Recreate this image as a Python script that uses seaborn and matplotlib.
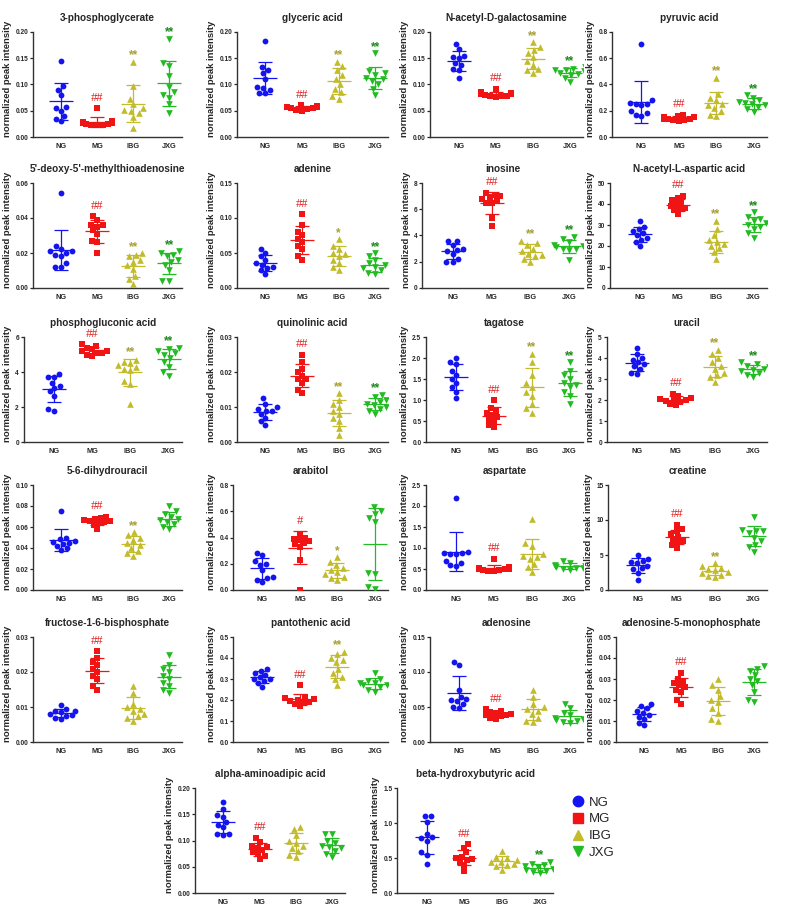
import numpy as np
import pandas as pd
import matplotlib
matplotlib.use("Agg")
import matplotlib.pyplot as plt
from matplotlib.lines import Line2D
from matplotlib.ticker import MultipleLocator, FormatStrFormatter
import seaborn as sns
import warnings

warnings.filterwarnings("ignore")

# groups and styling
groups = ["NG", "MG", "IBG", "JXG"]
colors = ["#1414F0", "#F01414", "#C2BC2C", "#22BB22"]
star_colors = ["#1414F0", "#E02020", "#A8A038", "#1E8A1E"]
markers = ["o", "s", "^", "v"]
marker_sizes = [4.2, 3.9, 4.8, 4.8]

titles = [
    "3-phosphoglycerate", "glyceric acid", "N-acetyl-D-galactosamine", "pyruvic acid",
    "5'-deoxy-5'-methylthioadenosine", "adenine", "inosine", "N-acetyl-L-aspartic acid",
    "phosphogluconic acid", "quinolinic acid", "tagatose", "uracil",
    "5-6-dihydrouracil", "arabitol", "aspartate", "creatine",
    "fructose-1-6-bisphosphate", "pantothenic acid", "adenosine", "adenosine-5-monophosphate",
    "alpha-aminoadipic acid", "beta-hydroxybutyric acid",
]
y_max = [0.20, 0.20, 0.20, 0.8, 0.06, 0.15, 8, 50, 6, 0.03, 2.5, 5,
         0.10, 0.8, 2.5, 15, 0.03, 0.5, 0.15, 0.05, 0.20, 1.5]
y_step = [0.05, 0.05, 0.05, 0.2, 0.02, 0.05, 2, 10, 2, 0.01, 0.5, 1,
          0.02, 0.2, 0.5, 5, 0.01, 0.1, 0.05, 0.01, 0.05, 0.5]
y_decimals = [2, 2, 2, 1, 2, 2, 0, 0, 0, 2, 1, 0,
              2, 1, 1, 0, 2, 1, 2, 2, 2, 1]

# significance marks per panel (NG, MG, IBG, JXG)
marks = [
    ["", "##", "**", "**"], ["", "##", "**", "**"], ["", "##", "**", "**"], ["", "##", "**", "**"],
    ["", "##", "**", "**"], ["", "##", "*", "**"], ["", "##", "**", "**"], ["", "##", "**", "**"],
    ["", "##", "**", "**"], ["", "##", "**", "**"], ["", "##", "**", "**"], ["", "##", "**", "**"],
    ["", "##", "**", ""], ["", "#", "*", ""], ["", "##", "", ""], ["", "##", "**", ""],
    ["", "##", "", ""], ["", "##", "**", ""], ["", "##", "", ""], ["", "##", "", ""],
    ["", "##", "", ""], ["", "##", "", "**"],
]

# values (NG, MG, IBG, JXG)
phosphoglycerate = [
    [0.145, 0.097, 0.090, 0.080, 0.057, 0.055, 0.050, 0.040, 0.035, 0.030],
    [0.055, 0.030, 0.028, 0.027, 0.026, 0.025, 0.024, 0.023, 0.022, 0.022],
    [0.143, 0.098, 0.073, 0.062, 0.055, 0.052, 0.050, 0.045, 0.038, 0.018],
    [0.187, 0.140, 0.135, 0.117, 0.095, 0.085, 0.080, 0.075, 0.062, 0.045],
]
glyceric = [
    [0.182, 0.133, 0.128, 0.121, 0.111, 0.095, 0.093, 0.090, 0.084, 0.083],
    [0.060, 0.059, 0.058, 0.058, 0.057, 0.056, 0.055, 0.054, 0.052, 0.050],
    [0.143, 0.135, 0.127, 0.118, 0.110, 0.100, 0.092, 0.085, 0.078, 0.073],
    [0.160, 0.125, 0.122, 0.118, 0.113, 0.110, 0.106, 0.100, 0.092, 0.080],
]
galactosamine = [
    [0.177, 0.167, 0.155, 0.152, 0.150, 0.140, 0.138, 0.130, 0.128, 0.113],
    [0.092, 0.085, 0.083, 0.082, 0.081, 0.080, 0.079, 0.079, 0.078, 0.077],
    [0.180, 0.172, 0.165, 0.160, 0.152, 0.145, 0.138, 0.130, 0.127, 0.122],
    [0.133, 0.130, 0.128, 0.127, 0.125, 0.122, 0.120, 0.118, 0.113, 0.105],
]
pyruvic = [
    [0.71, 0.28, 0.26, 0.25, 0.25, 0.24, 0.20, 0.18, 0.17, 0.16],
    [0.17, 0.16, 0.15, 0.15, 0.14, 0.14, 0.14, 0.13, 0.13, 0.12],
    [0.45, 0.33, 0.30, 0.28, 0.25, 0.24, 0.22, 0.20, 0.17, 0.16],
    [0.32, 0.30, 0.28, 0.27, 0.26, 0.25, 0.24, 0.23, 0.21, 0.19],
]
methylthioadenosine = [
    [0.054, 0.024, 0.022, 0.021, 0.021, 0.020, 0.019, 0.018, 0.014, 0.012, 0.012],
    [0.041, 0.039, 0.036, 0.036, 0.035, 0.033, 0.031, 0.027, 0.026, 0.020],
    [0.020, 0.019, 0.018, 0.016, 0.015, 0.013, 0.011, 0.007, 0.005, 0.002],
    [0.021, 0.020, 0.019, 0.018, 0.016, 0.015, 0.013, 0.010, 0.004, 0.004],
]
adenine = [
    [0.055, 0.050, 0.045, 0.040, 0.035, 0.033, 0.030, 0.028, 0.025, 0.020],
    [0.105, 0.090, 0.080, 0.075, 0.070, 0.065, 0.060, 0.055, 0.045, 0.040],
    [0.070, 0.060, 0.055, 0.050, 0.048, 0.045, 0.040, 0.035, 0.030, 0.025],
    [0.050, 0.045, 0.040, 0.035, 0.033, 0.030, 0.028, 0.025, 0.022, 0.020],
]
inosine = [
    [3.6, 3.55, 3.3, 3.0, 2.9, 2.8, 2.6, 2.2, 2.0, 2.0],
    [7.2, 7.1, 7.0, 6.9, 6.8, 6.7, 6.5, 6.5, 5.3, 4.7],
    [3.6, 3.4, 3.3, 3.0, 2.8, 2.6, 2.5, 2.4, 2.2, 2.0],
    [3.9, 3.7, 3.5, 3.3, 3.2, 3.1, 3.0, 3.0, 2.9, 2.1],
]
acetylaspartic = [
    [32, 29, 28, 27, 26, 25, 24, 23, 22, 20],
    [44, 43, 42, 41, 40, 39, 38, 38, 37, 35],
    [32, 28, 25, 23, 22, 21, 20, 19, 17, 14],
    [36, 34, 33, 32, 31, 30, 29, 28, 26, 24],
]
phosphogluconic = [
    [3.9, 3.7, 3.7, 3.4, 3.2, 3.1, 2.9, 2.65, 1.9, 1.8],
    [5.6, 5.5, 5.4, 5.3, 5.2, 5.2, 5.1, 5.1, 5.0, 4.9],
    [4.7, 4.6, 4.5, 4.4, 4.3, 4.2, 4.1, 3.5, 3.3, 2.2],
    [5.4, 5.3, 5.2, 5.1, 5.0, 4.8, 4.6, 4.3, 4.0, 3.8],
]
quinolinic = [
    [0.0125, 0.011, 0.010, 0.0095, 0.009, 0.0088, 0.008, 0.007, 0.006, 0.005],
    [0.025, 0.023, 0.021, 0.020, 0.019, 0.018, 0.018, 0.017, 0.015, 0.014],
    [0.014, 0.012, 0.011, 0.010, 0.009, 0.008, 0.007, 0.006, 0.004, 0.002],
    [0.0135, 0.013, 0.012, 0.0115, 0.011, 0.0105, 0.010, 0.0095, 0.009, 0.008],
]
tagatose = [
    [2.0, 1.9, 1.85, 1.7, 1.6, 1.5, 1.4, 1.3, 1.2, 1.05],
    [1.0, 0.8, 0.75, 0.7, 0.65, 0.6, 0.55, 0.5, 0.4, 0.35],
    [2.1, 1.9, 1.6, 1.4, 1.3, 1.2, 1.1, 0.9, 0.8, 0.7],
    [1.9, 1.7, 1.6, 1.5, 1.4, 1.35, 1.3, 1.2, 1.1, 0.9],
]
uracil = [
    [4.5, 4.2, 4.0, 3.9, 3.8, 3.7, 3.6, 3.5, 3.3, 3.25],
    [2.3, 2.2, 2.1, 2.05, 2.0, 2.0, 1.95, 1.9, 1.8, 1.75],
    [4.4, 4.2, 4.0, 3.8, 3.6, 3.5, 3.3, 3.2, 3.1, 2.85],
    [3.8, 3.7, 3.6, 3.55, 3.5, 3.45, 3.4, 3.3, 3.2, 3.1],
]
dihydrouracil = [
    [0.075, 0.050, 0.049, 0.047, 0.046, 0.045, 0.044, 0.042, 0.040, 0.038],
    [0.070, 0.069, 0.068, 0.067, 0.066, 0.066, 0.065, 0.064, 0.062, 0.058],
    [0.055, 0.052, 0.050, 0.048, 0.045, 0.043, 0.040, 0.037, 0.035, 0.032],
    [0.080, 0.075, 0.072, 0.070, 0.068, 0.067, 0.065, 0.063, 0.060, 0.058],
]
arabitol = [
    [0.28, 0.27, 0.22, 0.20, 0.19, 0.15, 0.10, 0.09, 0.08, 0.06],
    [0.42, 0.40, 0.39, 0.38, 0.37, 0.36, 0.35, 0.33, 0.23, 0.0],
    [0.25, 0.21, 0.19, 0.17, 0.15, 0.14, 0.12, 0.10, 0.09, 0.08],
    [0.63, 0.60, 0.58, 0.55, 0.52, 0.13, 0.12, 0.02, 0.01],
]
aspartate = [
    [2.18, 0.90, 0.88, 0.87, 0.86, 0.85, 0.70, 0.65, 0.60, 0.58],
    [0.75, 0.55, 0.52, 0.50, 0.50, 0.49, 0.48, 0.47, 0.46, 0.45],
    [1.68, 1.12, 1.05, 0.85, 0.80, 0.78, 0.75, 0.62, 0.55, 0.42],
    [0.70, 0.65, 0.60, 0.58, 0.56, 0.55, 0.53, 0.52, 0.50, 0.48],
]
creatine = [
    [5.0, 4.5, 4.2, 4.0, 3.8, 3.5, 3.2, 3.0, 2.5, 1.5],
    [9.3, 8.7, 8.5, 8.0, 7.6, 7.3, 7.0, 6.8, 6.5, 6.0],
    [3.8, 3.5, 3.2, 3.0, 2.8, 2.6, 2.4, 2.2, 2.0, 1.8],
    [10.5, 8.6, 8.5, 8.4, 8.2, 7.5, 7.0, 6.5, 6.2, 5.5],
]
fructose_bp = [
    [0.0105, 0.0095, 0.009, 0.0088, 0.0085, 0.008, 0.0078, 0.0075, 0.007, 0.0065],
    [0.026, 0.024, 0.023, 0.022, 0.021, 0.020, 0.019, 0.018, 0.016, 0.015],
    [0.016, 0.014, 0.011, 0.010, 0.0095, 0.009, 0.008, 0.0075, 0.007, 0.006],
    [0.025, 0.022, 0.021, 0.020, 0.019, 0.018, 0.017, 0.016, 0.015, 0.014],
]
pantothenic = [
    [0.35, 0.34, 0.33, 0.32, 0.31, 0.30, 0.30, 0.29, 0.28, 0.26],
    [0.27, 0.215, 0.21, 0.205, 0.20, 0.195, 0.19, 0.19, 0.18, 0.17],
    [0.43, 0.42, 0.40, 0.39, 0.38, 0.35, 0.33, 0.31, 0.30, 0.27],
    [0.33, 0.30, 0.29, 0.28, 0.28, 0.27, 0.27, 0.26, 0.25, 0.24],
]
adenosine = [
    [0.115, 0.110, 0.075, 0.065, 0.062, 0.060, 0.058, 0.055, 0.050, 0.049],
    [0.047, 0.045, 0.043, 0.042, 0.040, 0.039, 0.038, 0.037, 0.035, 0.033],
    [0.075, 0.065, 0.055, 0.050, 0.047, 0.045, 0.040, 0.035, 0.030, 0.028],
    [0.055, 0.048, 0.042, 0.038, 0.035, 0.033, 0.031, 0.030, 0.028, 0.027],
]
amp = [
    [0.018, 0.017, 0.016, 0.015, 0.014, 0.013, 0.012, 0.011, 0.009, 0.008],
    [0.033, 0.030, 0.029, 0.028, 0.027, 0.026, 0.025, 0.024, 0.020, 0.018],
    [0.030, 0.027, 0.025, 0.022, 0.020, 0.019, 0.016, 0.014, 0.011, 0.010],
    [0.036, 0.035, 0.034, 0.032, 0.030, 0.029, 0.027, 0.024, 0.020, 0.019],
]
aminoadipic = [
    [0.173, 0.160, 0.148, 0.145, 0.135, 0.130, 0.125, 0.113, 0.112, 0.110],
    [0.105, 0.097, 0.090, 0.088, 0.085, 0.082, 0.078, 0.075, 0.070, 0.065],
    [0.125, 0.122, 0.110, 0.100, 0.095, 0.090, 0.085, 0.080, 0.073, 0.068],
    [0.113, 0.112, 0.100, 0.095, 0.090, 0.088, 0.085, 0.080, 0.075, 0.068],
]
hydroxybutyric = [
    [1.10, 1.10, 1.02, 0.85, 0.80, 0.78, 0.75, 0.58, 0.55, 0.42],
    [0.70, 0.65, 0.58, 0.52, 0.50, 0.48, 0.47, 0.45, 0.40, 0.32],
    [0.60, 0.52, 0.50, 0.47, 0.45, 0.44, 0.42, 0.40, 0.38, 0.33],
    [0.45, 0.42, 0.40, 0.38, 0.37, 0.35, 0.33, 0.31, 0.30, 0.28],
]

panels = [phosphoglycerate, glyceric, galactosamine, pyruvic,
          methylthioadenosine, adenine, inosine, acetylaspartic,
          phosphogluconic, quinolinic, tagatose, uracil,
          dihydrouracil, arabitol, aspartate, creatine,
          fructose_bp, pantothenic, adenosine, amp,
          aminoadipic, hydroxybutyric]

# === LAYOUT (pixels) ===
W, H = 787, 913
label_x = [5, 209, 402, 588]
right_x = [182, 388, 583, 767]
row_top = [32, 183, 337, 485, 637, 788]
ax_h = 105
last_label_x = [167, 373]
last_right_x = [345, 553]

sns.set_style("ticks")
plt.rcParams["font.family"] = ["Liberation Sans", "DejaVu Sans"]

fig = plt.figure(figsize=(W / 100, H / 100), dpi=100)

axes = []
for k, (title, data) in enumerate(zip(titles, panels)):
    ax = fig.add_axes([0.1, 0.1, 0.2, 0.1])
    rows = []
    for g, vals in zip(groups, data):
        rows += [(g, v) for v in vals]
    df = pd.DataFrame(rows, columns=["group", "value"])

    for i, g in enumerate(groups):
        sub = df[df["group"] == g]
        sns.swarmplot(data=sub, x="group", y="value", order=groups, color=colors[i],
                      marker=markers[i], size=marker_sizes[i], linewidth=0, ax=ax)
        m = sub["value"].mean()
        sd = sub["value"].std()
        ax.errorbar(i, m, yerr=sd, fmt="_", color=colors[i], ms=17, mew=0.9,
                    elinewidth=0.9, capsize=5.2, capthick=0.9, zorder=3)
        mk = marks[k][i]
        if mk:
            top = max(sub["value"].max(), m + sd)
            if "#" in mk:
                ax.text(i, top + 0.10 * y_max[k], mk, ha="center", va="center",
                        color=star_colors[i], fontsize=9, family="Liberation Serif")
            else:
                ax.text(i, top + 0.06 * y_max[k], mk, ha="center", va="center",
                        color=star_colors[i], fontsize=8.5, fontweight="bold")

    ax.set_xlim(-0.78, 3.35)
    ax.set_ylim(0, y_max[k])
    ax.yaxis.set_major_locator(MultipleLocator(y_step[k]))
    ax.yaxis.set_major_formatter(FormatStrFormatter("%%.%df" % y_decimals[k]))
    ax.set_xlabel("")
    ax.set_ylabel("normalized peak intensity", fontsize=6.8, fontweight="bold",
                  loc="bottom", labelpad=2)
    ax.set_title(title, fontsize=7.2, fontweight="bold", pad=8)
    ax.tick_params(axis="x", length=0, pad=4, labelsize=5.3)
    ax.tick_params(axis="y", length=2, width=0.9, pad=1.5, labelsize=4.7)
    for lab in ax.get_xticklabels() + ax.get_yticklabels():
        lab.set_fontweight("bold")
    sns.despine(ax=ax)
    for s in ["left", "bottom"]:
        ax.spines[s].set_linewidth(1.0)
        ax.spines[s].set_color("#333333")
    axes.append(ax)

# place each axes so the spine sits right of its tick labels
fig.canvas.draw()
renderer = fig.canvas.get_renderer()
for k, ax in enumerate(axes):
    if k < 20:
        r, c = divmod(k, 4)
        lx, rx = label_x[c], right_x[c]
    else:
        r, c = 5, k - 20
        lx, rx = last_label_x[c], last_right_x[c]
    w = max(t.get_window_extent(renderer).width for t in ax.get_yticklabels())
    left = lx + 13 + w
    ax.set_position([left / W, 1 - (row_top[r] + ax_h) / H, (rx - left) / W, ax_h / H])

handles = [Line2D([], [], linestyle="none", marker=markers[i], color=colors[i], ms=7.5)
           for i in range(4)]
fig.legend(handles, groups, loc="upper left", bbox_to_anchor=(566 / W, 1 - 791 / H),
           frameon=False, fontsize=9.5, handletextpad=0.3, labelspacing=0.35,
           handlelength=1.0, borderaxespad=0)

fig.savefig("out.png", dpi=100)
